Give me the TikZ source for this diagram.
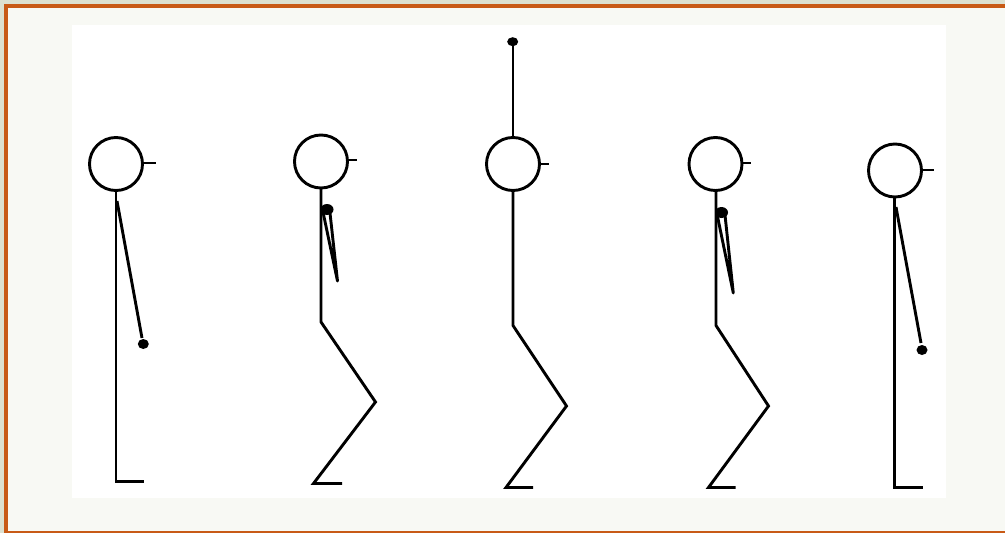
\documentclass[tikz,border=0pt]{standalone}
\begin{document}
\begin{tikzpicture}[x=1pt,y=-1pt,
  limb/.style={line width=2.9pt,black},
  head/.style={line width=2.9pt,black,fill=white},
  joint/.style={fill=black}]
\definecolor{outerbg}{HTML}{DDE1D0}
\definecolor{frameorange}{HTML}{C85A16}
\definecolor{paper}{HTML}{F8F9F4}
% frame and panel
\fill[outerbg] (0,0) rectangle (1005,533);
\useasboundingbox (0,0) rectangle (1005,533);
\fill[frameorange] (3.5,4) rectangle (1005,533);
\fill[paper] (7.5,8) rectangle (1005,531);
\fill[white] (72,25) rectangle (946,498);

% figure 1: standing, arm hanging
\coordinate (h1) at (116,164);
\draw[limb] (116,190) -- (116,481.5) -- (144,481.5);
\draw[limb] (117,201) -- (142,338);
\fill[joint] (143.3,344) ellipse (5.5 and 5);
\draw[head] (h1) circle (26.5);
\draw[limb] (142.5,163) -- (156,163);

% figure 2: crouched, arm folded
\coordinate (h2) at (321,161.5);
\draw[limb] (321,187) -- (321,322) -- (375.5,402) -- (313.5,483.5) -- (342,483.5);
\draw[limb,line join=round] (323,212) -- (337.5,281) -- (330,213);
\fill[joint] (327,209.5) ellipse (6.5 and 5.5);
\draw[head] (h2) circle (26.5);
\draw[limb] (347.5,160) -- (357,160);

% figure 3: crouched, arm raised
\coordinate (h3) at (513,164);
\draw[limb] (513,190) -- (513,325.5) -- (566.5,406) -- (506,487.5) -- (533,487.5);
\draw[limb] (513,138) -- (513,43);
\fill[joint] (512.7,41.7) ellipse (5.5 and 4.5);
\draw[head] (h3) circle (26.5);
\draw[limb] (539.5,164) -- (549,164);

% figure 4: crouched, arm folded
\coordinate (h4) at (715.5,164);
\draw[limb] (716,190) -- (716,325.5) -- (768.5,406) -- (708.5,487.5) -- (735.5,487.5);
\draw[limb,line join=round] (717,214) -- (733.3,293) -- (725,215);
\fill[joint] (721.5,212.5) ellipse (6.5 and 5.5);
\draw[head] (h4) circle (26.5);
\draw[limb] (742,163) -- (751,163);

% figure 5: standing, arm hanging
\coordinate (h5) at (895,170.5);
\draw[limb] (894.5,197) -- (894.5,487.5) -- (923,487.5);
\draw[limb] (896,207) -- (921,343);
\fill[joint] (922,350) ellipse (5.5 and 5);
\draw[head] (h5) circle (26.5);
\draw[limb] (921.5,170) -- (934,170);
\end{tikzpicture}
\end{document}
